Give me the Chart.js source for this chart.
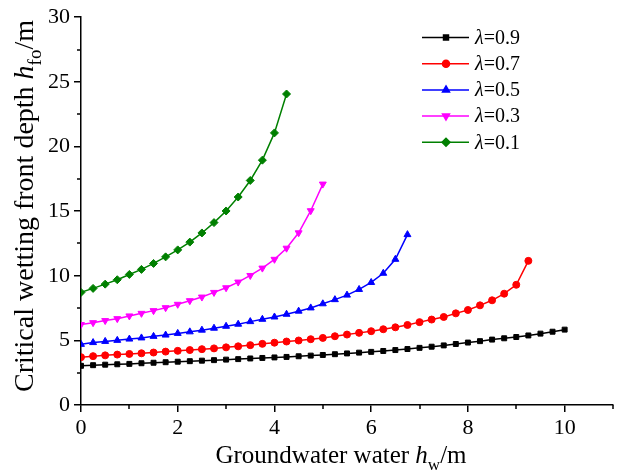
<!DOCTYPE html>
<html>
<head>
<meta charset="utf-8">
<script src="https://cdn.jsdelivr.net/npm/chart.js@4.4.0/dist/chart.umd.min.js"></script>
<style>
  html, body { margin: 0; padding: 0; background: #fff; }
</style>
</head>
<body>
<canvas id="chart" width="618" height="470"></canvas>
<script>
// groundwater level h_w (m), step 0.25
const hw = [0, 0.25, 0.5, 0.75, 1, 1.25, 1.5, 1.75, 2, 2.25, 2.5, 2.75, 3, 3.25, 3.5, 3.75,
  4, 4.25, 4.5, 4.75, 5, 5.25, 5.5, 5.75, 6, 6.25, 6.5, 6.75, 7, 7.25, 7.5, 7.75,
  8, 8.25, 8.5, 8.75, 9, 9.25, 9.5, 9.75, 10];

const labels = ['0.9', '0.7', '0.5', '0.3', '0.1'];

// critical wetting front depth h_fo (m)
const lambda09 = [3.03, 3.08, 3.12, 3.15, 3.18, 3.23, 3.27, 3.31, 3.35, 3.39, 3.43, 3.47, 3.51, 3.55,
  3.60, 3.64, 3.68, 3.72, 3.77, 3.82, 3.87, 3.93, 3.99, 4.05, 4.11, 4.18, 4.25, 4.33, 4.42, 4.51,
  4.61, 4.72, 4.83, 4.94, 5.06, 5.16, 5.26, 5.38, 5.52, 5.67, 5.83];
const lambda07 = [3.70, 3.78, 3.84, 3.90, 3.95, 4.00, 4.06, 4.13, 4.19, 4.25, 4.32, 4.38, 4.46, 4.54,
  4.63, 4.73, 4.82, 4.91, 4.99, 5.09, 5.19, 5.32, 5.45, 5.58, 5.71, 5.86, 6.01, 6.19, 6.41, 6.61,
  6.81, 7.09, 7.35, 7.71, 8.10, 8.61, 9.30, 11.15];
const lambda05 = [4.69, 4.83, 4.92, 5.00, 5.10, 5.19, 5.31, 5.41, 5.54, 5.66, 5.79, 5.94, 6.09, 6.25,
  6.45, 6.63, 6.81, 7.02, 7.26, 7.51, 7.83, 8.15, 8.50, 8.94, 9.48, 10.19, 11.27, 13.18];
const lambda03 = [6.22, 6.37, 6.53, 6.68, 6.89, 7.09, 7.30, 7.53, 7.79, 8.07, 8.35, 8.71, 9.07, 9.51,
  10.02, 10.59, 11.27, 12.13, 13.32, 15.03, 17.09];
const lambda01 = [8.71, 9.02, 9.35, 9.69, 10.10, 10.49, 10.95, 11.46, 12.00, 12.60, 13.31, 14.11,
  15.01, 16.09, 17.37, 18.94, 21.05, 24.06];

const series = [lambda09, lambda07, lambda05, lambda03, lambda01];
const colors = ['#000000', '#ff0000', '#0000ff', '#ff00ff', '#008000'];
const markers = ['rect', 'circle', 'triangle', 'triangle', 'rectRot'];
const rotations = [0, 0, 0, 180, 0];
const radii = [3.5, 3.5, 4, 4, 4];

const FONT = '"Liberation Serif", "Times New Roman", serif';

const datasets = series.map((vals, i) => ({
  label: labels[i],
  data: vals.map((v, j) => ({ x: hw[j], y: v })),
  borderColor: colors[i],
  backgroundColor: colors[i],
  borderWidth: 1.5,
  pointStyle: markers[i],
  rotation: rotations[i],
  pointRadius: radii[i],
  pointBorderWidth: 1,
  tension: 0
}));

// minor ticks between the labelled ones
const minorTicks = {
  id: 'minorTicks',
  afterDraw(chart) {
    const ctx = chart.ctx;
    const { x, y } = chart.scales;
    ctx.save();
    ctx.strokeStyle = '#000';
    ctx.lineWidth = 1.5;
    ctx.beginPath();
    [1, 3, 5, 7, 9, 11].forEach(v => {
      const px = Math.round(x.getPixelForValue(v));
      ctx.moveTo(px, y.bottom);
      ctx.lineTo(px, y.bottom + 4);
    });
    [2.5, 7.5, 12.5, 17.5, 22.5, 27.5].forEach(v => {
      const py = Math.round(y.getPixelForValue(v));
      ctx.moveTo(x.left, py);
      ctx.lineTo(x.left - 4, py);
    });
    ctx.stroke();
    ctx.restore();
  }
};

// draws a run of text parts: [text, style] where style is '', 'i' or 'sub'
function drawParts(ctx, parts, size) {
  let total = 0;
  const fonts = parts.map(p => {
    const f = p[1] === 'i' ? `italic ${size}px ${FONT}` :
      p[1] === 'sub' ? `${Math.round(size * 0.68)}px ${FONT}` : `${size}px ${FONT}`;
    ctx.font = f;
    total += ctx.measureText(p[0]).width;
    return f;
  });
  let cx = -total / 2;
  parts.forEach((p, k) => {
    ctx.font = fonts[k];
    ctx.fillText(p[0], cx, p[1] === 'sub' ? size * 0.28 : 0);
    cx += ctx.measureText(p[0]).width;
  });
}

const axisTitles = {
  id: 'axisTitles',
  afterDraw(chart) {
    const ctx = chart.ctx;
    ctx.save();
    ctx.fillStyle = '#000';
    ctx.textBaseline = 'alphabetic';
    ctx.textAlign = 'left';
    ctx.translate(341, 463);
    drawParts(ctx, [['Groundwater water ', ''], ['h', 'i'], ['w', 'sub'], ['/m', '']], 25);
    ctx.restore();

    ctx.save();
    ctx.fillStyle = '#000';
    ctx.textAlign = 'left';
    ctx.translate(33, 206);
    ctx.rotate(-Math.PI / 2);
    drawParts(ctx, [['Critical wetting front depth ', ''], ['h', 'i'], ['fo', 'sub'], ['/m', '']], 28);
    ctx.restore();
  }
};

const lineLegend = {
  id: 'lineLegend',
  afterDraw(chart) {
    const ctx = chart.ctx;
    chart.data.datasets.forEach((ds, i) => {
      const y = 37.5 + i * 26.2;
      ctx.save();
      ctx.strokeStyle = ds.borderColor;
      ctx.lineWidth = 1.5;
      ctx.beginPath();
      ctx.moveTo(422, y);
      ctx.lineTo(469, y);
      ctx.stroke();
      ctx.fillStyle = ds.backgroundColor;
      Chart.helpers.drawPoint(ctx, {
        pointStyle: ds.pointStyle, rotation: ds.rotation, radius: ds.pointRadius, borderWidth: 1
      }, 446, y);
      ctx.fillStyle = '#000';
      ctx.textBaseline = 'middle';
      ctx.font = `italic 20px ${FONT}`;
      ctx.fillText('λ', 475, y + 1);
      const w = ctx.measureText('λ').width;
      ctx.font = `20px ${FONT}`;
      ctx.fillText('=' + ds.label, 475 + w, y + 1);
      ctx.restore();
    });
  }
};

new Chart(document.getElementById('chart'), {
  type: 'line',
  data: { datasets },
  options: {
    responsive: false,
    animation: false,
    devicePixelRatio: 1,
    layout: { padding: { top: 16, right: 4, left: 0, bottom: 0 } },
    plugins: { legend: { display: false }, tooltip: { enabled: false } },
    scales: {
      x: {
        type: 'linear',
        min: 0,
        max: 11,
        ticks: { stepSize: 2, color: '#000', font: { family: FONT, size: 22 }, padding: 3, maxRotation: 0 },
        afterBuildTicks: s => { s.ticks = s.ticks.filter(t => t.value <= 10); },
        afterFit: s => { s.height = 65; },
        grid: { drawOnChartArea: false, drawTicks: true, tickLength: 7, color: '#000', lineWidth: 1.5 },
        border: { color: '#000', width: 1.5 }
      },
      y: {
        min: 0,
        max: 30,
        ticks: { stepSize: 5, color: '#000', font: { family: FONT, size: 22 }, padding: 4 },
        afterFit: s => { s.width = 81; },
        grid: { drawOnChartArea: false, drawTicks: true, tickLength: 7, color: '#000', lineWidth: 1.5 },
        border: { color: '#000', width: 1.5 }
      }
    }
  },
  plugins: [minorTicks, axisTitles, lineLegend]
});
</script>
</body>
</html>
